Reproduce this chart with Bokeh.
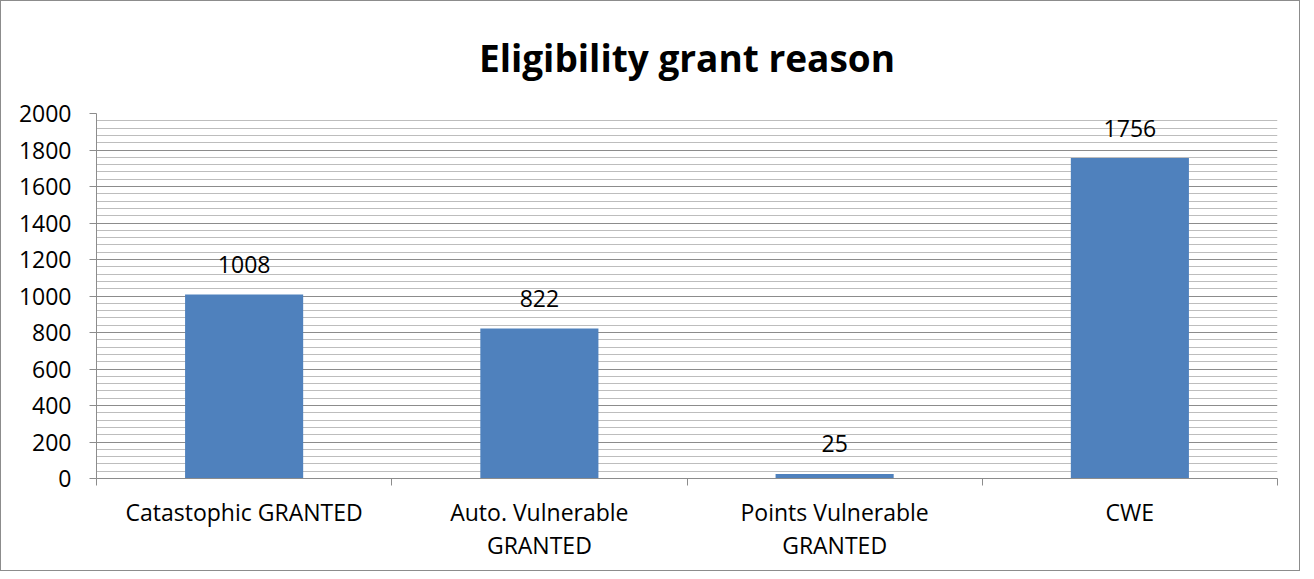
from bokeh.plotting import figure
from bokeh.models import Range1d, FixedTicker, ColumnDataSource
from bokeh.core.properties import value
from bokeh.embed import file_html
from bokeh.resources import INLINE

title = "Eligibility grant reason"
categories = ["Catastophic GRANTED", "Auto. Vulnerable\nGRANTED", "Points Vulnerable\nGRANTED", "CWE"]
counts = [1008, 822, 25, 1756]
y_ticks = list(range(0, 2001, 200))
y_minor = [v for v in range(0, 2001, 40) if v % 200 != 0]

FONT = "Open Sans"
GRID = "#8c8c8c"

xs = [i + 0.5 for i in range(len(categories))]
src = ColumnDataSource(dict(x=xs, top=counts, label=[str(c) for c in counts]))

p = figure(width=1300, height=571, output_backend="svg", toolbar_location=None,
           x_range=Range1d(0, len(categories)), y_range=Range1d(0, 2000),
           min_border_left=95, min_border_right=24, min_border_top=112, min_border_bottom=94)
p.styles = {"border": "1px solid #8c8c8c"}

p.title.text = title
p.title.align = "center"
p.title.vertical_align = "top"
p.title.text_font = FONT
p.title.text_font_size = "37px"
p.title.text_font_style = "bold"
p.title.text_color = "#000000"
p.title.standoff = 57

p.outline_line_color = None
p.background_fill_color = "white"

p.vbar(x="x", top="top", width=0.4, source=src, fill_color="#4f81bd", line_color=None)
p.text(x="x", y="top", text="label", source=src, text_align="center", text_baseline="alphabetic",
       y_offset=-30, text_font=value(FONT), text_font_size="23px", text_color="#000000")

# y axis
p.yaxis.ticker = FixedTicker(ticks=y_ticks, minor_ticks=y_minor)
p.yaxis.major_label_text_font = FONT
p.yaxis.major_label_text_font_size = "23px"
p.yaxis.major_label_text_color = "#000000"
p.yaxis.axis_line_color = GRID
p.yaxis.major_tick_line_color = GRID
p.yaxis.major_tick_out = 7
p.yaxis.major_tick_in = 0
p.yaxis.minor_tick_out = 0
p.yaxis.minor_tick_in = 0
p.yaxis.major_label_standoff = 18

p.ygrid.ticker = FixedTicker(ticks=y_ticks, minor_ticks=y_minor)
p.ygrid.grid_line_color = GRID
p.ygrid.minor_grid_line_color = "#bdbdbd"
p.xgrid.grid_line_color = None

# x axis
p.xaxis.ticker = FixedTicker(ticks=xs, minor_ticks=list(range(len(categories) + 1)))
p.xaxis.major_label_overrides = {x: c for x, c in zip(xs, categories)}
p.xaxis.major_label_text_font = FONT
p.xaxis.major_label_text_font_size = "23px"
p.xaxis.major_label_text_line_height = 1.05
p.xaxis.major_label_text_color = "#000000"
p.xaxis.axis_line_color = GRID
p.xaxis.major_tick_out = 0
p.xaxis.major_tick_in = 0
p.xaxis.minor_tick_line_color = GRID
p.xaxis.minor_tick_out = 7
p.xaxis.minor_tick_in = 0
p.xaxis.major_label_standoff = 10

open("out.html", "w").write(file_html(p, INLINE))
